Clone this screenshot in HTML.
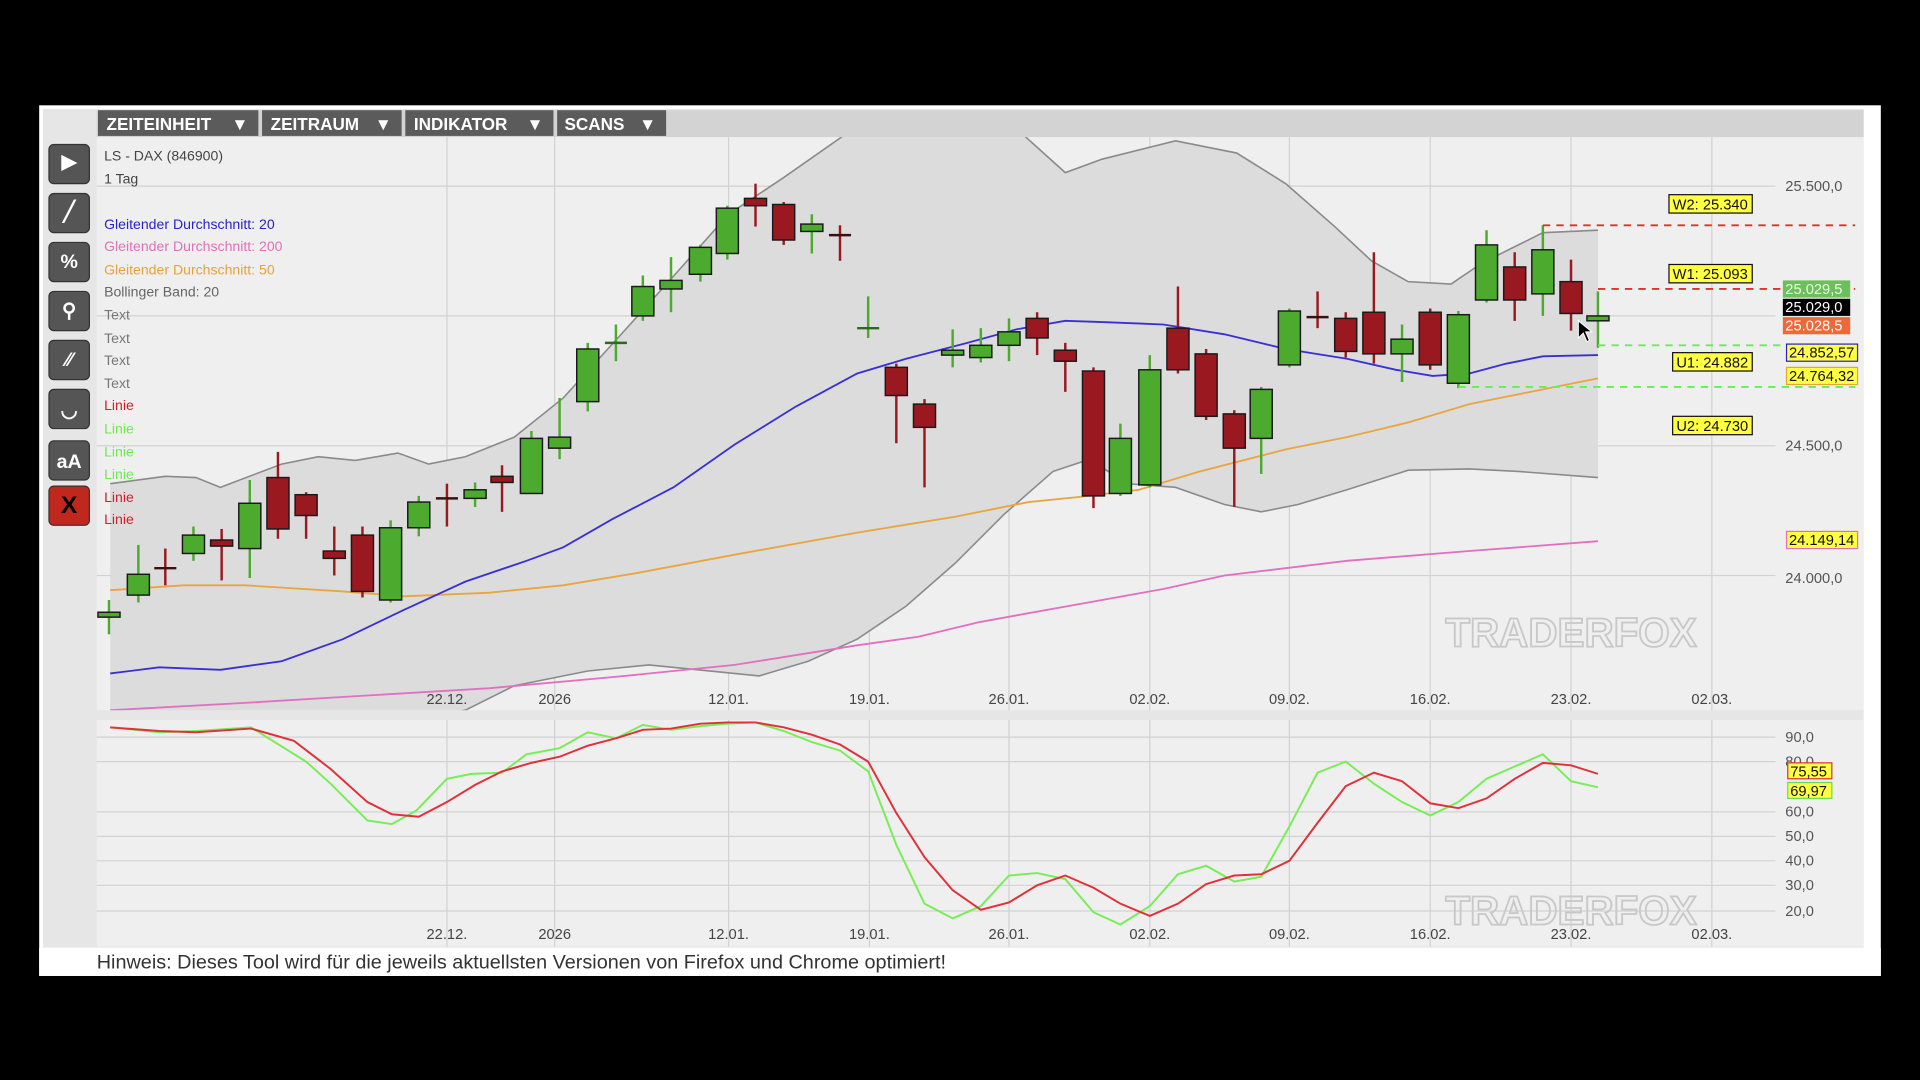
<!DOCTYPE html>
<html><head><meta charset="utf-8"><style>
html,body{margin:0;padding:0;background:#000;width:1920px;height:1080px;overflow:hidden}
svg{display:block}
text{font-family:"Liberation Sans",sans-serif}
</style></head><body>
<svg id="s" width="1920" height="1080" viewBox="0 0 1568 882" xmlns="http://www.w3.org/2000/svg">
<defs><clipPath id="cp"><rect x="79" y="112" width="1443" height="468"/></clipPath>
<clipPath id="cp2"><rect x="79" y="588" width="1443" height="185"/></clipPath></defs>
<rect x="0" y="0" width="1568" height="882" fill="#000"/>
<rect x="32" y="86" width="1504" height="711" fill="#fff"/>
<rect x="35" y="89" width="1487" height="685" fill="#e6e6e6"/>
<rect x="79" y="90" width="1443" height="22" fill="#d3d3d3"/>
<rect x="79" y="112" width="1443" height="468" fill="#efefef"/>
<rect x="79" y="588" width="1443" height="185" fill="#efefef"/>
<g fill="#5b5b5b"><rect x="80" y="90" width="131" height="21"/><rect x="214" y="90" width="114" height="21"/><rect x="331" y="90" width="121" height="21"/><rect x="455" y="90" width="89" height="21"/></g>
<g fill="#fff" font-weight="bold" font-size="14"><text x="87" y="106">ZEITEINHEIT</text><text x="189" y="106">▼</text><text x="221" y="106">ZEITRAUM</text><text x="306" y="106">▼</text><text x="338" y="106">INDIKATOR</text><text x="430" y="106">▼</text><text x="461" y="106">SCANS</text><text x="522" y="106">▼</text></g>
<g id="tools"></g>
<g stroke="#d2d2d2" stroke-width="1" id="grid"></g>
<g id="bb" clip-path="url(#cp)"></g>
<g id="lines" clip-path="url(#cp)"></g>
<g id="candles"></g>
<g font-size="11.5">
<text x="85" y="131" fill="#444">LS - DAX (846900)</text>
<text x="85" y="150" fill="#444">1 Tag</text>
<text x="85" y="187" fill="#2a22c8">Gleitender Durchschnitt: 20</text>
<text x="85" y="205" fill="#e070b8">Gleitender Durchschnitt: 200</text>
<text x="85" y="224" fill="#e8a23a">Gleitender Durchschnitt: 50</text>
<text x="85" y="242" fill="#666">Bollinger Band: 20</text>
<text x="85" y="261" fill="#777">Text</text><text x="85" y="280" fill="#777">Text</text><text x="85" y="298" fill="#777">Text</text><text x="85" y="317" fill="#777">Text</text>
<text x="85" y="335" fill="#d0202a">Linie</text><text x="85" y="354" fill="#6eea50">Linie</text><text x="85" y="373" fill="#6eea50">Linie</text><text x="85" y="391" fill="#6eea50">Linie</text><text x="85" y="410" fill="#d0202a">Linie</text><text x="85" y="428" fill="#d0202a">Linie</text>
</g>
<g stroke-dasharray="6,5" stroke-width="1.5" fill="none">
<line x1="1260" y1="184" x2="1515" y2="184" stroke="#e03030"/>
<line x1="1305" y1="236" x2="1515" y2="236" stroke="#e03030"/>
<line x1="1305" y1="282" x2="1515" y2="282" stroke="#66ee55"/>
<line x1="1191" y1="316" x2="1515" y2="316" stroke="#66ee55"/>
</g>
<g font-size="12" fill="#111">
<rect x="1363" y="159" width="68" height="15" fill="#ffff44" stroke="#111"/><text x="1366" y="171">W2: 25.340</text>
<rect x="1363" y="216" width="68" height="15" fill="#ffff44" stroke="#111"/><text x="1366" y="228">W1: 25.093</text>
<rect x="1366" y="288" width="65" height="15" fill="#ffff44" stroke="#111"/><text x="1369" y="300">U1: 24.882</text>
<rect x="1366" y="340" width="65" height="15" fill="#ffff44" stroke="#111"/><text x="1369" y="352">U2: 24.730</text>
<rect x="1456" y="229" width="55" height="14" fill="#6cbf5a"/><text x="1458" y="240" fill="#e8ffe0">25.029,5</text>
<rect x="1456" y="244" width="55" height="14" fill="#000"/><text x="1458" y="255" fill="#fff">25.029,0</text>
<rect x="1456" y="259" width="55" height="14" fill="#ec6a3a"/><text x="1458" y="270" fill="#fff">25.028,5</text>
<rect x="1459" y="281" width="58" height="14" fill="#ffff44" stroke="#2a22c8"/><text x="1461" y="292">24.852,57</text>
<rect x="1459" y="300" width="58" height="14" fill="#ffff44" stroke="#e8a23a"/><text x="1461" y="311">24.764,32</text>
<rect x="1459" y="434" width="58" height="14" fill="#ffff44" stroke="#e070b8"/><text x="1461" y="445">24.149,14</text>
</g>
<g font-size="12" fill="#555">
<text x="1458" y="156">25.500,0</text><text x="1458" y="368">24.500,0</text><text x="1458" y="476">24.000,0</text>
<text x="1458" y="606">90,0</text><text x="1458" y="626">80,0</text><text x="1458" y="667">60,0</text><text x="1458" y="687">50,0</text><text x="1458" y="707">40,0</text><text x="1458" y="727">30,0</text><text x="1458" y="748">20,0</text>
</g>
<g font-size="12" fill="#444" text-anchor="middle" id="dates"></g>
<g font-size="12" fill="#111">
<rect x="1460" y="623" width="36" height="13" fill="#ffff44" stroke="#e03030"/><text x="1462" y="634">75,55</text>
<rect x="1460" y="639" width="36" height="13" fill="#ffff44" stroke="#66dd55"/><text x="1462" y="650">69,97</text>
</g>
<text x="1283" y="528" font-size="33" font-weight="bold" fill="none" stroke="#c8c8c8" stroke-width="1.5" text-anchor="middle">TRADERFOX</text>
<text x="1283" y="755" font-size="33" font-weight="bold" fill="none" stroke="#c8c8c8" stroke-width="1.5" text-anchor="middle" clip-path="url(#cp2)">TRADERFOX</text>
<g id="osc" clip-path="url(#cp2)"></g>
<path d="M1289 262 L1289 276 L1293 272 L1296 279 L1298 278 L1295 271 L1300 271 Z" fill="#000" stroke="#fff" stroke-width="0.8"/>
<rect x="32" y="774" width="1504" height="23" fill="#fff"/>
<text x="79" y="791" font-size="16.2" fill="#333">Hinweis: Dieses Tool wird für die jeweils aktuellsten Versionen von Firefox und Chrome optimiert!</text>
</svg>
<script>
const NS="http://www.w3.org/2000/svg";
function el(p,t,a){const e=document.createElementNS(NS,t);for(const k in a)e.setAttribute(k,a[k]);document.getElementById(p).appendChild(e);return e;}
[152,258,364,470].forEach(y=>el('grid','line',{x1:79,x2:1450,y1:y,y2:y}));
[602,622,663,683,703,723,744].forEach(y=>el('grid','line',{x1:79,x2:1450,y1:y,y2:y}));
const dx=[[365,'22.12.'],[453,'2026'],[595,'12.01.'],[710,'19.01.'],[824,'26.01.'],[939,'02.02.'],[1053,'09.02.'],[1168,'16.02.'],[1283,'23.02.'],[1398,'02.03.']];
dx.forEach(([x,t])=>{el('grid','line',{x1:x,x2:x,y1:112,y2:580});el('grid','line',{x1:x,x2:x,y1:588,y2:773});
 el('dates','text',{x:x,y:575}).textContent=t;el('dates','text',{x:x,y:767}).textContent=t;});
[118,158,198,238,278,318,360].forEach(y=>el('tools','rect',{x:40,y:y,width:33,height:32,rx:4,fill:'#555',stroke:'#333'}));
el('tools','rect',{x:40,y:397,width:33,height:32,rx:4,fill:'#c0281e',stroke:'#333'});
const ic=[['▶',137],['╱',178],['%',219],['⚲',259],['⁄⁄',299],['◡',340],['aA',382],['X',419]];
ic.forEach(([t,y],i)=>{const e=el('tools','text',{x:56.5,y:y,fill:i==7?'#000':'#fff','font-size':i==7?20:16,'text-anchor':'middle','font-weight':'bold'});e.textContent=t;});
function pts(a){return a.map(p=>p.join(',')).join(' ');}
const up=[[90,395],[135,389],[160,390],[180,398],[230,379],[260,373],[290,376],[325,370],[350,379],[380,373],[420,357],[460,325],[510,270],[555,220],[595,175],[640,145],[690,110],[760,95],[830,105],[870,141],[900,130],[960,115],[1010,125],[1050,150],[1090,185],[1120,213],[1150,230],[1185,232],[1210,215],[1240,200],[1260,190],[1305,188]];
const lo=[[90,600],[300,600],[380,580],[420,560],[480,548],[530,543],[570,547],[620,552],[660,540],[700,522],[740,495],[780,460],[820,420],[860,385],[890,375],[920,395],[960,398],[1000,412],[1030,418],[1060,412],[1100,400],[1150,384],[1200,383],[1240,385],[1305,390]];
el('bb','polygon',{points:pts(up.concat(lo.slice().reverse())),fill:'#dcdcdc'});
el('bb','polyline',{points:pts(up),fill:'none',stroke:'#8a8a8a','stroke-width':1.3});
el('bb','polyline',{points:pts(lo),fill:'none',stroke:'#8a8a8a','stroke-width':1.3});
const ma200=[[90,580],[200,574],[300,568],[400,562],[500,553],[600,543],[700,527],[750,520],[800,508],[900,490],[950,481],[1000,470],[1100,458],[1200,450],[1305,442]];
const ma50=[[90,482],[150,478],[200,478],[280,483],[330,487],[400,484],[460,478],[520,468],[600,453],[700,435],[780,422],[840,410],[880,406],[930,400],[980,385],[1050,367],[1100,357],[1150,345],[1200,330],[1260,318],[1305,309]];
const ma20=[[90,550],[130,545],[180,547],[230,540],[280,522],[330,498],[380,475],[430,458],[460,447],[500,424],[550,398],[600,363],[650,332],[700,305],[740,293],[790,280],[830,269],[870,262],[900,263],[950,265],[1000,273],[1050,285],[1100,293],[1140,302],[1170,307],[1200,305],[1230,297],[1260,291],[1305,290]];
el('lines','polyline',{points:pts(ma200),fill:'none',stroke:'#e070c0','stroke-width':1.5});
el('lines','polyline',{points:pts(ma50),fill:'none',stroke:'#e8a640','stroke-width':1.5});
el('lines','polyline',{points:pts(ma20),fill:'none',stroke:'#3a2fd6','stroke-width':1.5});
const C=[[89,500,504,490,518,'g'],[113,469,486,445,492,'g'],[135,464,465,448,478,'r'],[158,437,452,430,458,'g'],[181,441,446,432,474,'r'],[204,411,448,392,472,'g'],[227,390,432,369,440,'r'],[250,404,421,402,440,'r'],[273,450,456,430,470,'r'],[296,437,483,430,488,'r'],[319,431,490,425,492,'g'],[342,410,431,405,438,'g'],[365,407,408,395,430,'r'],[388,400,407,394,414,'g'],[410,389,394,380,418,'r'],[434,358,403,352,403,'g'],[457,357,366,325,375,'g'],[480,285,328,280,336,'g'],[503,280,281,265,295,'g'],[525,234,258,225,262,'g'],[548,229,236,210,255,'g'],[572,202,224,200,230,'g'],[594,170,207,168,212,'g'],[617,162,168,150,185,'r'],[640,167,196,165,200,'r'],[663,183,189,175,207,'g'],[686,192,193,184,213,'r'],[709,268,269,242,276,'g'],[732,300,323,297,362,'r'],[755,330,349,326,398,'r'],[778,286,290,269,300,'g'],[801,282,292,268,296,'g'],[824,271,282,260,295,'g'],[847,260,276,255,290,'r'],[870,286,295,280,320,'r'],[893,303,405,300,415,'r'],[915,358,403,346,405,'g'],[939,302,396,290,398,'g'],[962,268,302,234,305,'r'],[985,289,340,285,343,'r'],[1008,338,366,335,414,'r'],[1030,318,358,316,387,'g'],[1053,254,298,252,300,'g'],[1076,259,260,238,268,'r'],[1099,260,287,255,292,'r'],[1122,255,289,206,297,'r'],[1145,277,289,265,312,'g'],[1168,255,298,252,302,'r'],[1191,257,313,254,317,'g'],[1214,200,245,188,247,'g'],[1237,218,245,206,262,'r'],[1260,204,240,184,258,'g'],[1283,230,256,212,270,'r'],[1305,258,262,238,284,'g']];
C.forEach(([x,t,b,wt,wb,c])=>{const col=c=='g'?'#4caa2e':'#9a1820';
 el('candles','line',{x1:x,x2:x,y1:wt,y2:wb,stroke:col,'stroke-width':2});
 if(b-t<=2){el('candles','line',{x1:x-9,x2:x+9,y1:t,y2:t,stroke:c=='g'?'#2c6a1c':'#3a1010','stroke-width':2});}
 else el('candles','rect',{x:x-9,y:t,width:18,height:b-t,fill:col,stroke:'#1a1a1a','stroke-width':1.2});});
const gr=[[90,594],[130,598],[160,597],[205,594],[250,622],[270,640],[300,670],[320,673],[340,662],[365,636],[385,632],[410,631],[430,616],[457,611],[480,598],[503,603],[525,592],[548,596],[572,593],[594,591],[617,590],[640,597],[663,606],[686,613],[709,630],[732,690],[755,738],[778,750],[801,740],[824,715],[847,713],[870,718],[893,745],[915,755],[939,740],[962,714],[985,707],[1008,720],[1030,716],[1053,675],[1076,631],[1099,622],[1122,640],[1145,655],[1168,666],[1191,655],[1214,636],[1237,626],[1260,616],[1283,638],[1305,643]];
const rd=[[90,594],[130,597],[160,598],[205,595],[240,605],[270,628],[300,655],[320,665],[342,667],[365,655],[388,641],[410,630],[434,623],[457,618],[480,609],[503,603],[525,596],[548,595],[572,591],[594,590],[617,590],[640,594],[663,600],[686,608],[709,622],[732,664],[755,700],[778,727],[801,743],[824,737],[847,723],[870,715],[893,725],[915,738],[939,748],[962,738],[985,722],[1008,715],[1030,714],[1053,703],[1076,672],[1099,642],[1122,631],[1145,638],[1168,656],[1191,660],[1214,652],[1237,636],[1260,623],[1283,625],[1305,632]];
el('osc','polyline',{points:pts(gr),fill:'none',stroke:'#77ee55','stroke-width':1.6});
el('osc','polyline',{points:pts(rd),fill:'none',stroke:'#e0303a','stroke-width':1.6});
</script>
</body></html>
